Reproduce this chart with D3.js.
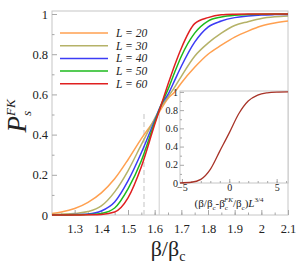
<!DOCTYPE html>
<html>
<head>
<meta charset="utf-8">
<script src="https://cdn.jsdelivr.net/npm/d3@7"></script>
<style>
  body { margin: 0; background: #fff; }
  svg { display: block; }
  text { font-family: "Liberation Serif", "Times New Roman", "DejaVu Serif", serif; }
</style>
</head>
<body>
<svg id="chart" width="304" height="265"></svg>
<script>
// beta / beta_c grid shared by every L
const betaGrid = [1.215, 1.25, 1.3, 1.35, 1.4, 1.45, 1.5, 1.55, 1.6, 1.625, 1.65, 1.675, 1.7, 1.75, 1.8, 1.85, 1.9, 1.95, 2.0, 2.05, 2.1];

const pL20 = [0.008, 0.015, 0.032, 0.063, 0.11, 0.18, 0.275, 0.38, 0.475, 0.53, 0.58, 0.612, 0.657, 0.735, 0.80, 0.845, 0.885, 0.915, 0.94, 0.955, 0.965];
const pL30 = [0.002, 0.004, 0.008, 0.017, 0.045, 0.115, 0.22, 0.35, 0.48, 0.54, 0.587, 0.636, 0.69, 0.79, 0.855, 0.905, 0.943, 0.962, 0.978, 0.986, 0.99];
const pL40 = [0.001, 0.001, 0.002, 0.005, 0.02, 0.065, 0.17, 0.31, 0.47, 0.55, 0.6, 0.67, 0.74, 0.86, 0.935, 0.965, 0.982, 0.99, 0.995, 0.997, 0.998];
const pL50 = [0, 0, 0.001, 0.002, 0.008, 0.035, 0.13, 0.27, 0.46, 0.55, 0.625, 0.71, 0.79, 0.905, 0.965, 0.985, 0.994, 0.997, 0.999, 1, 1];
const pL60 = [0, 0, 0, 0.001, 0.003, 0.015, 0.085, 0.24, 0.45, 0.55, 0.65, 0.745, 0.83, 0.952, 0.982, 0.996, 0.999, 1, 1, 1, 1];

const sizes = [20, 30, 40, 50, 60];
const seriesP = [pL20, pL30, pL40, pL50, pL60];
const colors = ['#ffa050', '#b5b268', '#3c3cf5', '#1cba1c', '#e02020'];

const xTicks = [1.3, 1.4, 1.5, 1.6, 1.7, 1.8, 1.9, 2.0, 2.1];
const yTicks = [0, 0.2, 0.4, 0.6, 0.8, 1];

// reference lines: beta_c^FK / beta_c (dashed) and the crossing point (solid)
const betaFK = 1.56;
const betaCross = 1.617;
const refTop = 0.507;

// scaling collapse shown in the inset
const scaledX = [-5.2, -4, -3, -2, -1, 0, 1, 2, 3, 4, 5, 6.2];
const scaledP = [0.002, 0.008, 0.04, 0.15, 0.35, 0.55, 0.76, 0.9, 0.965, 0.99, 0.998, 1];
const insetXTicks = [-5, 0, 5];
const insetYTicks = [0, 0.2, 0.4, 0.6, 0.8, 1];

const frameColor = '#c6c6c6';
const tickColor = '#a8a8a8';
const textColor = '#222';

const svg = d3.select('#chart');

const x = d3.scaleLinear().domain([1.215, 2.1]).range([52, 288]);
const y = d3.scaleLinear().domain([0, 1.015]).range([215, 11]);

// frame
svg.append('rect')
    .attr('x', x.range()[0]).attr('y', y.range()[1])
    .attr('width', x.range()[1] - x.range()[0])
    .attr('height', y.range()[0] - y.range()[1])
    .attr('fill', 'none')
    .attr('stroke', frameColor);

const styleAxis = (g, fontSize) => {
  g.select('.domain').remove();
  g.selectAll('line').attr('stroke', tickColor);
  g.attr('font-family', null);
  g.selectAll('text')
      .style('font-size', fontSize + 'px')
      .attr('fill', textColor);
}

// minor ticks first
svg.append('g')
    .attr('transform', `translate(0,${y.range()[0]})`)
    .call(d3.axisBottom(x).tickValues(d3.range(1.25, 2.1, 0.05)).tickSize(-2.5).tickFormat(''))
    .call(g => styleAxis(g, 12));
svg.append('g')
    .attr('transform', `translate(${x.range()[0]},0)`)
    .call(d3.axisLeft(y).tickValues(d3.range(0.1, 1, 0.2)).tickSize(-2.5).tickFormat(''))
    .call(g => styleAxis(g, 12));

svg.append('g')
    .attr('transform', `translate(0,${y.range()[0]})`)
    .call(d3.axisBottom(x).tickValues(xTicks).tickSize(-5).tickPadding(9).tickFormat(d3.format('')))
    .call(g => styleAxis(g, 12.5));
svg.append('g')
    .attr('transform', `translate(${x.range()[0]},0)`)
    .call(d3.axisLeft(y).tickValues(yTicks).tickSize(-5).tickPadding(4).tickFormat(d3.format('')))
    .call(g => styleAxis(g, 12.5));

// reference lines
svg.append('line')
    .attr('x1', x(betaFK)).attr('x2', x(betaFK))
    .attr('y1', y(0)).attr('y2', y(refTop))
    .attr('stroke', '#d8d8d8').attr('stroke-width', 1.5)
    .attr('stroke-dasharray', '5,3');
svg.append('line')
    .attr('x1', x(betaCross)).attr('x2', x(betaCross))
    .attr('y1', y(0)).attr('y2', y(refTop))
    .attr('stroke', '#cfcfcf').attr('stroke-width', 1);

// curves
const line = d3.line()
    .x((d) => x(d[0]))
    .y((d) => y(d[1]))
    .curve(d3.curveMonotoneX);

svg.append('g')
  .selectAll('path')
  .data(seriesP)
  .enter()
  .append('path')
    .attr('d', (p) => line(betaGrid.map((b, i) => [b, p[i]])))
    .attr('fill', 'none')
    .attr('stroke', (d, i) => colors[i])
    .attr('stroke-width', 1.5);

// legend
const legend = svg.append('g')
    .selectAll('g')
    .data(sizes)
    .enter()
    .append('g')
      .attr('transform', (d, i) => `translate(60,${33 + i * 12.7})`);

legend.append('line')
    .attr('x1', 0).attr('x2', 48)
    .attr('stroke', (d, i) => colors[i])
    .attr('stroke-width', 1.5);

legend.append('text')
    .attr('x', 56).attr('dy', '0.35em')
    .style('font-size', '11.5px')
    .style('font-style', 'italic')
    .attr('fill', textColor)
    .text((d) => `L = ${d}`);

// axis titles
const xTitle = svg.append('text')
    .attr('x', 168).attr('y', 256)
    .attr('text-anchor', 'middle')
    .style('font-size', '22px')
    .attr('fill', textColor);
xTitle.append('tspan').text('β/β');
xTitle.append('tspan').attr('dy', 5).style('font-size', '14px').text('c');

const yTitle = svg.append('text')
    .attr('transform', 'translate(26,116) rotate(-90)')
    .attr('text-anchor', 'middle')
    .attr('fill', textColor);
yTitle.append('tspan').style('font-size', '27px').style('font-style', 'italic').text('P');
yTitle.append('tspan').attr('dy', 5).style('font-size', '13px').style('font-style', 'italic').text('s');
yTitle.append('tspan').attr('dx', -5).attr('dy', -16).style('font-size', '13px').style('font-style', 'italic').text('FK');

// inset
const ix = d3.scaleLinear().domain([-5.2, 6.2]).range([180, 288]);
const iy = d3.scaleLinear().domain([0, 1.01]).range([183, 91]);

svg.append('rect')
    .attr('x', ix.range()[0]).attr('y', iy.range()[1])
    .attr('width', ix.range()[1] - ix.range()[0])
    .attr('height', iy.range()[0] - iy.range()[1])
    .attr('fill', '#fff')
    .attr('stroke', frameColor);

svg.append('g')
    .attr('transform', `translate(0,${iy.range()[0]})`)
    .call(d3.axisBottom(ix).tickValues(d3.range(-5, 7, 1)).tickSize(-2).tickFormat(''))
    .call(g => styleAxis(g, 9));
svg.append('g')
    .attr('transform', `translate(${ix.range()[0]},0)`)
    .call(d3.axisLeft(iy).tickValues(d3.range(0.1, 1, 0.2)).tickSize(-2).tickFormat(''))
    .call(g => styleAxis(g, 9));
svg.append('g')
    .attr('transform', `translate(0,${iy.range()[0]})`)
    .call(d3.axisBottom(ix).tickValues(insetXTicks).tickSize(-4).tickPadding(1).tickFormat(d3.format('')))
    .call(g => styleAxis(g, 10));
svg.append('g')
    .attr('transform', `translate(${ix.range()[0]},0)`)
    .call(d3.axisLeft(iy).tickValues(insetYTicks).tickSize(-4).tickPadding(2).tickFormat(d3.format('')))
    .call(g => styleAxis(g, 10));

const insetLine = d3.line()
    .x((d) => ix(d[0]))
    .y((d) => iy(d[1]))
    .curve(d3.curveMonotoneX);

svg.append('path')
    .attr('d', insetLine(scaledX.map((s, i) => [s, scaledP[i]])))
    .attr('fill', 'none')
    .attr('stroke', '#a83328')
    .attr('stroke-width', 1.3);

const iTitle = svg.append('text')
    .attr('x', 229).attr('y', 207)
    .attr('text-anchor', 'middle')
    .style('font-size', '11px')
    .attr('fill', textColor);
iTitle.append('tspan').text('(β/β');
iTitle.append('tspan').attr('dy', 3).style('font-size', '7px').text('c');
iTitle.append('tspan').attr('dy', -3).text('-β');
iTitle.append('tspan').attr('dy', 3).style('font-size', '7px').text('c');
iTitle.append('tspan').attr('dx', -4).attr('dy', -8).style('font-size', '7px').style('font-style', 'italic').text('FK');
iTitle.append('tspan').attr('dy', 5).text('/β');
iTitle.append('tspan').attr('dy', 3).style('font-size', '7px').text('c');
iTitle.append('tspan').attr('dy', -3).text(')');
iTitle.append('tspan').style('font-style', 'italic').text('L');
iTitle.append('tspan').attr('dy', -5).style('font-size', '7px').text('3/4');
</script>
</body>
</html>
